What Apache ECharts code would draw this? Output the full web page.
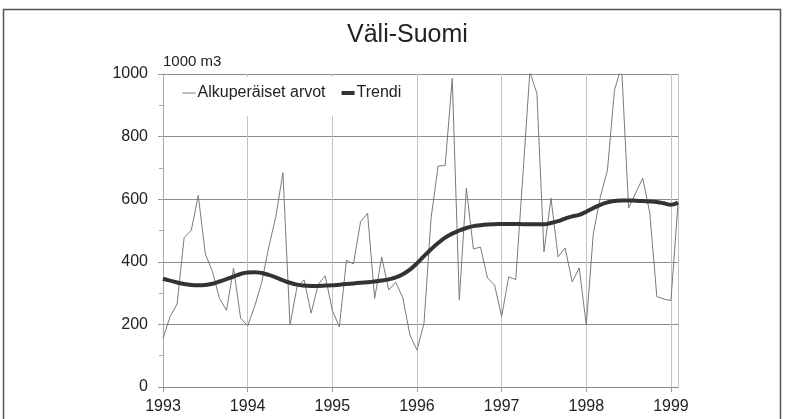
<!DOCTYPE html>
<html>
<head>
<meta charset="utf-8">
<script src="https://cdn.jsdelivr.net/npm/echarts@6/dist/echarts.min.js"></script>
<style>
  html, body { margin: 0; padding: 0; background: #fff; }
  #myChart { width: 794px; height: 419px; }
</style>
</head>
<body>
<div id="myChart"></div>
<script>
// kuukausiarvot tammikuu 1993 - helmikuu 1999
var startYear = 1993
var alkuperaiset = [
  155, 225, 265, 478, 500, 612, 425, 370, 283, 245, 380, 220,
  195, 258, 335, 448, 545, 685, 198, 320, 342, 236, 328, 355,
  245, 192, 405, 393, 528, 555, 283, 415, 310, 335, 284, 166,
  118, 204, 540, 706, 708, 986, 279, 635, 441, 447, 348, 326,
  225, 352, 343, 672, 1007, 938, 432, 603, 416, 444, 336, 380,
  198, 491, 608, 693, 949, 1025, 572, 620, 667, 556, 289, 281,
  276, 588
]
var trendi = [
  346, 340, 334, 329, 326, 325, 326, 330, 337, 345, 353, 361,
  366, 367, 364, 358, 350, 341, 333, 327, 324, 323, 323, 324,
  325, 327, 329, 331, 333, 335, 337, 340, 344, 350, 360, 375,
  395, 418, 440, 460, 477, 490, 500, 508, 514, 517, 519, 520,
  521, 521, 521, 520, 520, 520, 520, 524, 530, 538, 545, 550,
  560, 572, 582, 590, 594, 596, 596, 595, 594, 593, 591, 587,
  582, 590
]
var yearTicks = [1993, 1994, 1995, 1996, 1997, 1998, 1999]
var yMin = 0
var yMax = 1000
var yStep = 200

var fontFam = '"Liberation Sans", Arial, sans-serif'

function toPoints(arr) {
  return arr.map(function (v, i) {
    return [startYear + i / 12, v]
  })
}

var myChart = echarts.init(document.getElementById('myChart'), null, { renderer: 'canvas' })

var option = {
  backgroundColor: '#fff',
  animation: false,
  textStyle: { fontFamily: fontFam },
  title: {
    text: 'Väli-Suomi',
    left: 342,
    top: 18,
    textStyle: { fontSize: 25, fontWeight: 'normal', color: '#222', fontFamily: fontFam }
  },
  graphic: [
    {
      type: 'rect',
      shape: { x: 3.5, y: 9.5, width: 777, height: 440 },
      style: { fill: 'none', stroke: '#555', lineWidth: 1.5 },
      silent: true
    }
  ],
  legend: {
    data: [
      { name: 'Alkuperäiset arvot', lineStyle: { width: 1 } },
      { name: 'Trendi', lineStyle: { width: 4 } }
    ],
    left: 174,
    top: 77,
    padding: [8, 8, 15, 8],
    itemGap: 14,
    itemWidth: 13,
    itemHeight: 10,
    backgroundColor: '#fff',
    itemStyle: { opacity: 0 },
    textStyle: { fontSize: 16, color: '#222', fontFamily: fontFam, padding: [0, 0, 0, -3] }
  },
  grid: {
    left: 163,
    right: 116,
    top: 74,
    bottom: 32
  },
  xAxis: {
    type: 'value',
    min: yearTicks[0],
    max: startYear + (alkuperaiset.length - 1) / 12,
    interval: 1,
    axisLine: { show: true, lineStyle: { color: '#888', width: 1 } },
    axisTick: { show: true, length: 5, lineStyle: { color: '#999' } },
    axisLabel: {
      margin: 12,
      fontSize: 16,
      color: '#222',
      fontFamily: fontFam,
      showMaxLabel: false,
      formatter: function (v) {
        return yearTicks.indexOf(Math.round(v * 1000) / 1000) >= 0 ? String(v) : ''
      }
    },
    splitLine: { show: true, lineStyle: { color: '#c4c4c4', width: 1 } }
  },
  yAxis: {
    type: 'value',
    min: yMin,
    max: yMax,
    interval: yStep,
    name: '1000 m3',
    nameLocation: 'end',
    nameGap: 5,
    nameTextStyle: { align: 'left', verticalAlign: 'bottom', fontSize: 15, color: '#222', fontFamily: fontFam },
    axisLine: { show: true, lineStyle: { color: '#aaa', width: 1 } },
    axisTick: { show: true, length: 5, lineStyle: { color: '#999' } },
    minorTick: { show: true, splitNumber: 2, length: 4, lineStyle: { color: '#aaa' } },
    axisLabel: {
      margin: 15,
      fontSize: 16,
      color: '#222',
      fontFamily: fontFam,
      formatter: function (v) { return String(v) }
    },
    splitLine: { show: true, lineStyle: { color: '#8c8c8c', width: 1 } }
  },
  series: [
    {
      name: 'Alkuperäiset arvot',
      type: 'line',
      data: toPoints(alkuperaiset),
      symbol: 'none',
      lineStyle: { color: '#7a7a7a', width: 1 },
      itemStyle: { color: '#7a7a7a' },
      z: 2
    },
    {
      name: 'Trendi',
      type: 'line',
      data: toPoints(trendi),
      symbol: 'none',
      smooth: true,
      lineStyle: { color: '#333', width: 4 },
      itemStyle: { color: '#333' },
      z: 3
    }
  ]
}

myChart.setOption(option)
</script>
</body>
</html>
